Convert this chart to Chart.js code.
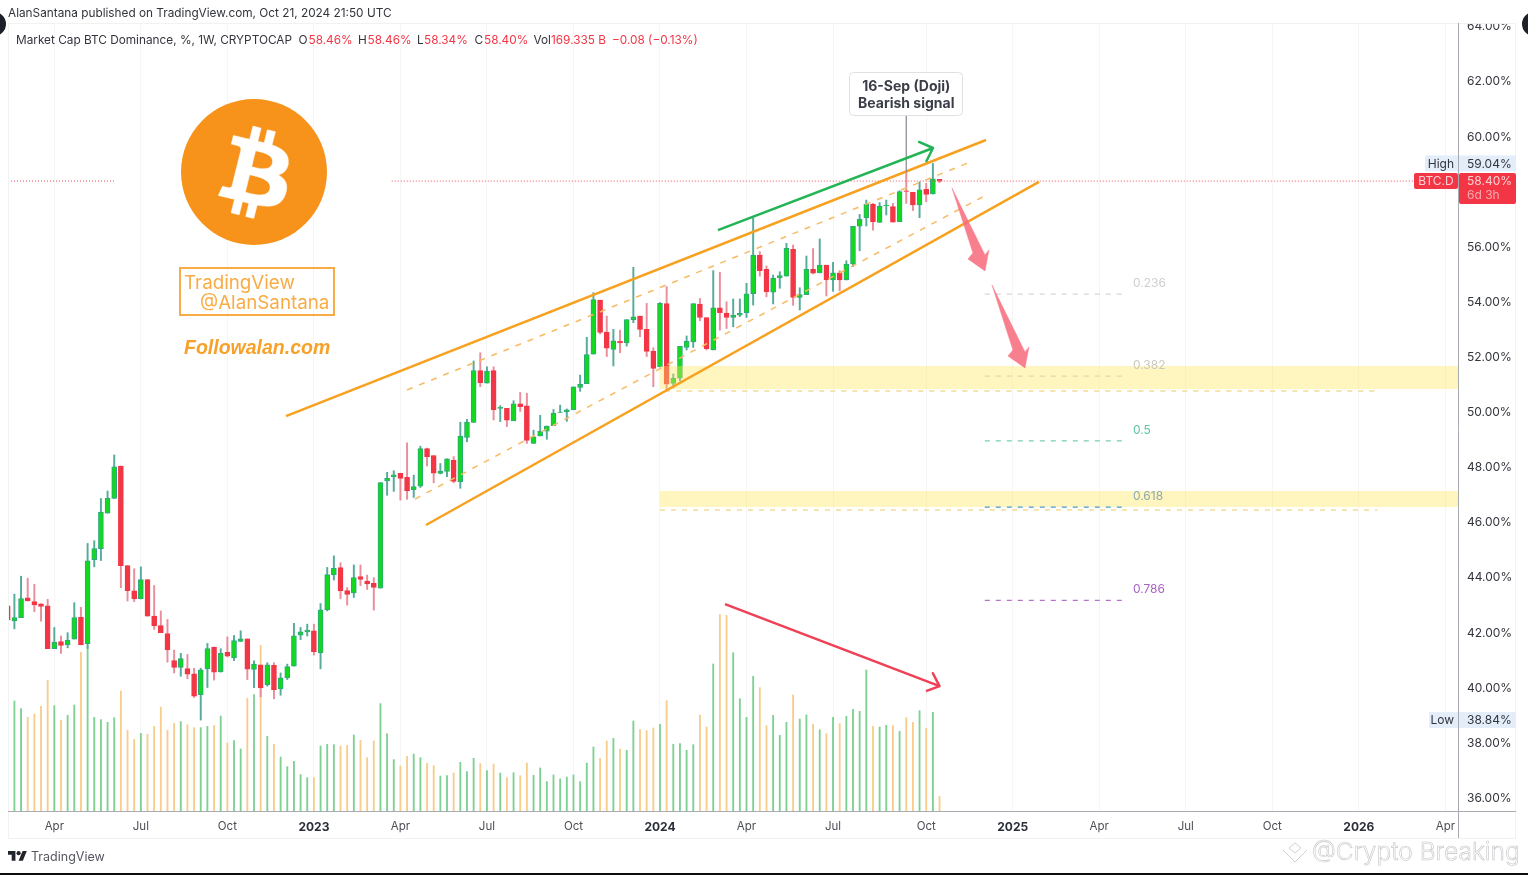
<!DOCTYPE html>
<html lang="en">

<head>
    <meta charset="UTF-8">
    <title>Market Cap BTC Dominance</title>
    <script src="https://cdn.jsdelivr.net/npm/chart.js"></script>
    <style>
        html, body { margin: 0; padding: 0; background: #fff; overflow: hidden; }
        #wrap { position: absolute; left: 0; top: 0; width: 1528px; height: 875px; }
        canvas { display: block; }
    </style>
</head>

<body>
    <div id="wrap"><canvas id="chart" width="1528" height="875"></canvas></div>
    <script>
        // weekly candles, first one is 2022-02-14ish, last one 2024-10-21
        const opens = [
            42.99,42.44,42.56,43.28,43.14,43.06,42.99,41.43,41.69,41.58,
            41.78,42.57,41.61,44.66,45.06,46.35,46.88,48.06,44.45,43.53,
            43.24,43.94,42.61,42.27,41.98,41.00,40.75,40.71,40.52,39.76,
            40.70,41.49,40.59,41.30,41.10,41.69,41.79,40.68,40.84,40.12,
            40.83,39.97,40.37,40.80,41.92,42.04,42.08,41.28,42.84,44.11,
            44.37,43.54,43.45,44.05,43.88,43.80,43.63,47.52,47.66,47.79,
            47.65,47.20,47.33,48.69,48.44,47.79,47.86,48.27,47.49,49.10,
            49.64,51.52,51.07,51.52,50.15,50.15,49.70,50.32,50.24,48.88,
            49.15,49.32,49.52,50.00,50.02,50.10,50.91,51.05,52.12,54.08,
            52.92,52.29,52.58,52.53,53.37,53.50,53.02,52.23,51.66,53.95,
            51.06,51.25,52.36,52.56,53.94,53.45,52.27,53.80,53.61,53.45,
            53.53,53.62,54.31,55.71,55.20,54.37,54.89,54.95,55.92,54.18,
            54.28,55.20,55.07,55.35,54.81,55.07,54.81,55.39,56.76,57.07,
            57.56,56.90,57.51,57.47,56.93,58.05,57.99,57.53,58.10,57.93,
            58.46
        ];
        const highs = [
            43.19,43.41,44.06,43.99,43.77,43.06,43.22,42.20,41.89,42.01,
            43.10,42.93,45.25,45.35,46.88,47.15,48.46,48.06,44.45,44.33,
            44.40,43.94,43.72,42.80,42.49,41.38,41.26,41.22,40.72,40.72,
            41.62,41.49,41.43,41.86,41.91,42.08,41.79,40.99,40.84,40.92,
            40.92,40.55,40.87,42.35,42.20,42.32,42.32,43.07,44.38,44.80,
            44.55,43.65,44.47,44.47,44.10,44.01,47.46,47.83,47.89,47.80,
            48.90,47.73,48.78,48.71,48.44,48.15,48.32,48.40,49.65,49.75,
            51.87,52.17,51.66,51.66,50.25,50.15,50.43,50.73,50.70,49.36,
            49.90,49.51,50.11,50.27,50.13,50.93,51.36,52.73,54.35,54.08,
            53.50,53.02,52.99,53.37,55.27,53.50,53.96,52.35,53.99,54.57,
            51.40,52.40,52.78,53.95,54.14,53.45,55.15,55.09,54.02,54.12,
            54.12,54.69,57.07,55.84,55.32,54.99,55.11,56.14,56.08,54.53,
            55.68,55.95,56.30,55.35,55.45,55.15,55.51,56.76,57.19,57.71,
            57.59,57.62,57.71,57.59,58.05,58.73,57.99,58.37,58.32,59.04,
            58.46
        ];
        const lows = [
            41.89,42.15,42.56,43.16,42.77,42.43,41.43,41.43,41.26,41.46,
            41.78,41.57,41.44,44.40,44.63,46.35,46.88,43.64,43.16,43.14,
            43.24,42.61,42.13,42.01,40.94,40.55,40.43,40.34,39.66,38.84,
            40.02,40.29,40.58,41.13,41.00,41.69,40.31,40.02,39.68,40.07,
            39.61,39.74,40.31,40.80,41.76,41.89,41.20,40.70,42.80,43.92,
            43.24,43.01,43.29,43.72,43.58,42.83,43.63,47.00,47.14,46.82,
            46.85,46.92,47.28,48.06,47.45,47.77,47.67,47.45,47.25,48.94,
            49.64,50.94,51.07,49.73,49.67,49.49,49.70,50.04,48.88,48.88,
            49.15,49.03,49.52,50.00,49.68,50.10,50.77,51.05,52.12,52.85,
            52.03,51.69,52.17,52.41,53.26,52.75,52.03,50.94,51.66,50.84,
            50.89,51.15,52.27,52.36,53.33,52.27,52.27,52.99,53.05,53.11,
            53.48,53.45,53.90,54.95,54.20,53.94,54.51,54.95,53.89,53.72,
            54.28,55.03,55.07,54.23,54.40,54.42,54.81,55.29,55.87,56.77,
            56.62,56.90,57.17,56.91,56.93,57.59,57.33,57.07,57.65,57.93,
            58.34
        ];
        const closes = [
            42.47,42.56,43.25,43.16,43.02,42.96,41.43,41.66,41.55,41.73,
            42.56,41.57,44.62,45.06,46.39,46.89,48.03,44.44,43.54,43.24,
            43.94,42.61,42.27,42.01,41.39,40.75,41.07,40.51,39.71,40.66,
            41.43,40.58,41.26,41.16,41.72,41.79,40.69,40.87,40.01,40.84,
            39.94,40.37,40.78,41.90,42.04,42.11,41.32,42.84,44.12,44.35,
            43.53,43.40,44.01,43.94,43.78,43.65,47.46,47.61,47.74,47.61,
            47.16,47.31,48.69,48.40,47.80,47.88,48.32,47.50,49.15,49.65,
            51.52,51.08,51.50,50.10,50.19,49.72,50.32,50.21,48.99,49.12,
            49.32,49.51,49.97,50.02,50.10,50.93,51.02,52.10,54.10,52.91,
            52.34,52.60,52.53,53.37,53.47,53.02,52.22,51.60,53.96,51.03,
            51.24,52.40,52.58,53.95,53.45,52.32,53.80,53.62,53.45,53.53,
            53.60,54.31,55.71,55.15,54.39,54.88,54.97,55.96,54.18,54.28,
            55.20,55.06,55.35,54.81,55.07,54.81,55.39,56.76,57.01,57.56,
            56.93,57.48,57.53,56.91,58.02,58.02,57.53,58.08,57.92,58.48,
            58.40
        ];
        // volume in billions
        const volumes = [
            951,1271,1182,1082,1120,1209,1509,1217,1047,1105,
            1224,1833,1894,1082,1055,1024,1078,1386,932,828,
            897,886,978,1201,932,1013,1032,997,963,963,
            978,986,1097,785,812,716,1301,1344,1913,862,
            770,624,512,574,420,385,385,751,770,766,
            751,758,878,816,616,809,1240,893,593,520,
            631,658,616,551,524,404,408,439,562,454,
            608,547,466,543,439,385,443,408,554,412,
            497,339,416,370,393,416,339,554,739,608,
            809,839,716,701,1040,939,928,959,1001,1274,
            770,778,701,766,1109,970,1698,2268,2260,1829,
            1297,1082,1555,1425,986,1105,874,1024,1340,1063,
            1109,1001,939,893,1082,1009,1093,1174,1151,1629,
            978,970,989,986,920,1078,1024,1159,955,1140,
            169
        ];

        const xTickWeeks = [7, 20, 33, 46, 59, 72, 85, 98, 111, 124, 138, 151, 164, 177, 190, 203, 216];
        const xTickLabels = ['Apr', 'Jul', 'Oct', '2023', 'Apr', 'Jul', 'Oct', '2024', 'Apr', 'Jul', 'Oct', '2025', 'Apr', 'Jul', 'Oct', '2026', 'Apr'];
        const yTickValues = [36, 38, 40, 42, 44, 46, 48, 50, 52, 54, 56, 58, 60, 62, 64];

        // drawings, [week, percent]
        const channelUpper = [[41.81, 49.87], [146.98, 59.89]];
        const channelLower = [[62.84, 45.92], [154.94, 58.37]];
        const channelMidUpper = [[59.99, 50.82], [145.03, 59.13]];
        const channelMidLower = [[61.19, 46.86], [146.98, 57.89]];
        const greenArrow = [[106.71, 56.62], [139.02, 59.60], [136.92, 59.82], [139.02, 59.60], [137.97, 59.09]];
        const redArrow = [[107.77, 43.05], [140.00, 40.07], [139.00, 40.54], [140.00, 40.07], [137.97, 39.89]];
        const pinkArrowOne = [[141.87, 58.15], [146.83, 55.72], [147.43, 55.90], [146.83, 55.14], [144.27, 55.57], [145.02, 55.79], [141.87, 58.15]];
        const pinkArrowTwo = [[147.88, 54.63], [152.84, 52.20], [153.44, 52.38], [152.84, 51.62], [150.28, 52.05], [151.03, 52.27], [147.88, 54.63]];
        const fibNames = ['0.236', '0.382', '0.5', '0.618', '0.786'];
        const fibValues = [54.30, 51.32, 48.97, 46.57, 43.18];
        const fibLineColors = ['#d6d6d6', '#dcd9b0', '#79cdb0', '#4f9cc4', '#b673cb'];
        const fibTextColors = ['#cfcfcf', '#c9c9c0', '#5fc4a0', '#8fa9ae', '#a963c2'];
        const zoneOne = [50.85, 51.69];
        const zoneTwo = [46.57, 47.15];

        const xMin = 0.04;
        const xMax = 217.9;
        const GREEN = '#12d81f';
        const RED = '#f23645';

        const weeks = closes.map((c, i) => i);
        const isUp = i => closes[i] >= opens[i];
        const pts = arr => arr.map(p => ({ x: p[0], y: p[1] }));

        function lineSet(arr, color, width, dash, order) {
            return {
                type: 'line', data: pts(arr), borderColor: color, borderWidth: width, borderDash: dash || [],
                pointRadius: 0, tension: 0, fill: false, order: order, yAxisID: 'y',
                borderCapStyle: 'butt', borderJoinStyle: 'round'
            };
        }
        function zoneSet(zone) {
            return {
                type: 'line', data: pts([[98, zone[1]], [xMax, zone[1]]]), borderWidth: 0, pointRadius: 0,
                fill: { value: zone[0] }, backgroundColor: 'rgba(252,231,95,0.4)', order: 4, yAxisID: 'y'
            };
        }
        function arrowSet(arr) {
            return {
                type: 'line', data: pts(arr), borderWidth: 0.5, borderColor: '#f8808e', pointRadius: 0, tension: 0,
                fill: 'shape', backgroundColor: 'rgba(247,105,122,0.85)', order: 1, yAxisID: 'y'
            };
        }

        const datasets = [
            {
                type: 'bar', data: weeks.map(i => ({ x: i, y: volumes[i] })), yAxisID: 'yVol', grouped: false,
                barThickness: 1.2, order: 10,
                backgroundColor: weeks.map(i => isUp(i) ? '#7fd093' : '#f8cd8c')
            },
            {
                type: 'bar', data: weeks.map(i => ({ x: i, y: [lows[i], highs[i]] })), yAxisID: 'y', grouped: false,
                barThickness: 1.3, order: 9,
                backgroundColor: weeks.map(i => isUp(i) ? '#56ab9a' : '#e98e9b')
            },
            {
                type: 'bar', data: weeks.map(i => ({ x: i, y: [opens[i], closes[i]] })), yAxisID: 'y', grouped: false,
                barThickness: 5, order: 8, borderWidth: 1, borderSkipped: false,
                backgroundColor: weeks.map(i => isUp(i) ? GREEN : RED),
                borderColor: weeks.map(i => isUp(i) ? '#2fa77e' : RED)
            },
            zoneSet(zoneOne),
            zoneSet(zoneTwo),
            lineSet([[98.8, 50.78], [205.8, 50.78]], '#f2dc96', 1.5, [5, 6], 3),
            lineSet([[98, 46.46], [205.8, 46.46]], '#f2dc96', 1.5, [5, 6], 3),
            lineSet([[xMin, closes[140]], [16.12, closes[140]]], '#ee4a5a', 1, [1, 2], 7),
            lineSet([[57.7, closes[140]], [xMax, closes[140]]], '#ee4a5a', 1, [1, 2], 7),
            lineSet(channelUpper, '#f7a11f', 2.5, [], 2),
            lineSet(channelLower, '#f7a11f', 2.5, [], 2),
            lineSet(channelMidUpper, '#f8ba63', 1.5, [6, 7], 2),
            lineSet(channelMidLower, '#f8ba63', 1.5, [6, 7], 2),
            lineSet(greenArrow, '#23b456', 2.5, [], 1),
            lineSet(redArrow, '#ef4056', 2.5, [], 1),
            lineSet([[135, 60.76], [135, 58.73]], '#85878f', 1.2, [], 1),
            arrowSet(pinkArrowOne),
            arrowSet(pinkArrowTwo)
        ];
        fibValues.forEach((v, i) => {
            datasets.push(lineSet([[146.8, v], [167.4, v]], fibLineColors[i], 1.3, [5, 6], 3));
        });

        const BITCOIN_B = 'M46.1 27.4c.6-4.3-2.6-6.6-7.1-8.1l1.5-5.8-3.5-.9-1.4 5.7c-.9-.2-1.9-.4-2.8-.7l1.4-5.7-3.5-.9-1.5 5.8c-.8-.2-1.5-.3-2.2-.5l-4.9-1.2-.9 3.8s2.6.6 2.6.6c1.4.4 1.7 1.3 1.6 2l-3.9 15.7c-.2.4-.6 1.1-1.6.8 0 0-2.6-.6-2.6-.6l-1.8 4 4.6 1.1c.9.2 1.7.4 2.5.6l-1.5 5.9 3.5.9 1.5-5.8c1 .3 1.9.5 2.8.7l-1.4 5.8 3.5.9 1.5-5.9c6 1.1 10.5.7 12.4-4.7 1.5-4.4-.1-6.9-3.2-8.5 2.3-.5 4-2 4.5-5.1zm-8 11.2c-1.1 4.4-8.4 2-10.8 1.4l1.9-7.7c2.4.6 10 1.8 8.9 6.3zm1.1-11.3c-1 4-7.1 2-9.1 1.5l1.7-7c2 .5 8.4 1.4 7.4 5.5z';

        const overlay = {
            id: 'overlay',
            afterDraw(chart) {
                const ctx = chart.ctx;
                const sy = chart.scales.y;
                const sx = chart.scales.x;
                const txt = (s, x, y, font, color, align) => {
                    ctx.font = font;
                    ctx.fillStyle = color;
                    ctx.textAlign = align || 'left';
                    ctx.textBaseline = 'middle';
                    ctx.fillText(s, x, y + 0.8);
                };
                ctx.save();

                // top part of the frame cuts the 64% label
                ctx.fillStyle = '#fff';
                ctx.fillRect(0, 0, 1528, 23);

                // frame
                ctx.strokeStyle = '#f2f2f3';
                ctx.lineWidth = 1;
                ctx.strokeRect(8.5, 23.5, 1507, 815);
                ctx.strokeStyle = '#a9abb2';
                ctx.beginPath();
                ctx.moveTo(1458.5, 23);
                ctx.lineTo(1458.5, 838);
                ctx.moveTo(8, 811.5);
                ctx.lineTo(1516, 811.5);
                ctx.stroke();

                // window corners and bottom edge
                ctx.fillStyle = '#1d2026';
                ctx.beginPath();
                ctx.arc(-6, 24, 12, 0, Math.PI * 2);
                ctx.arc(1534, 24, 12, 0, Math.PI * 2);
                ctx.fill();
                ctx.fillStyle = '#0c0c0e';
                ctx.fillRect(0, 873, 1528, 2);

                // header
                txt('AlanSantana published on TradingView.com, Oct 21, 2024 21:50 UTC', 8, 13, '11.8px Inter', '#33353d');
                txt('Market Cap BTC Dominance, %, 1W, CRYPTOCAP', 16, 39.5, '11.8px Inter', '#33353d');
                const legend = [['O', 298.5, '#33353d'], ['58.46%', 308.5, RED], ['H', 358, '#33353d'], ['58.46%', 367.5, RED],
                    ['L', 417, '#33353d'], ['58.34%', 424, RED], ['C', 474.5, '#33353d'], ['58.40%', 484, RED],
                    ['Vol', 533.5, '#33353d'], ['169.335 B', 551, RED], ['−0.08 (−0.13%)', 612, RED]];
                legend.forEach(l => txt(l[0], l[1], 39.5, '11.8px Inter', l[2]));

                // logo
                ctx.fillStyle = '#f7931a';
                ctx.beginPath();
                ctx.arc(254, 172, 73, 0, Math.PI * 2);
                ctx.fill();
                ctx.save();
                ctx.translate(183, 101);
                ctx.scale(146 / 64, 146 / 64);
                ctx.fillStyle = '#fff';
                ctx.strokeStyle = '#fff';
                ctx.lineWidth = 0.25;
                const bPath = new Path2D(BITCOIN_B);
                ctx.fill(bPath, 'evenodd');
                ctx.stroke(bPath);
                ctx.restore();

                ctx.strokeStyle = '#f8ac45';
                ctx.lineWidth = 2;
                ctx.strokeRect(180, 268, 154, 47);
                txt('TradingView', 184, 283, '18.8px Inter', '#f8ac45');
                txt('@AlanSantana', 200, 303, '18.8px Inter', '#f8ac45');
                txt('Followalan.com', 184, 348, 'italic bold 19.5px "Liberation Sans"', '#f7a12a');

                // doji note
                ctx.fillStyle = '#fff';
                ctx.strokeStyle = '#dfe0e3';
                ctx.lineWidth = 1;
                ctx.beginPath();
                ctx.roundRect(849.5, 72.5, 113, 43, 4);
                ctx.fill();
                ctx.stroke();
                txt('16-Sep (Doji)', sx.getPixelForValue(135), 85.5, 'bold 14px Inter', '#3b3e48', 'center');
                txt('Bearish signal', sx.getPixelForValue(135), 102.5, 'bold 14px Inter', '#3b3e48', 'center');

                // fib labels
                fibNames.forEach((n, i) => {
                    txt(n, sx.getPixelForValue(169.06), sy.getPixelForValue(fibValues[i]) - 11.5, '12px Inter', fibTextColors[i]);
                });

                // price scale labels
                const yHigh = sy.getPixelForValue(Math.max(...highs));
                const yLow = sy.getPixelForValue(Math.min(...lows));
                const yLast = sy.getPixelForValue(closes[closes.length - 1]);
                ctx.fillStyle = '#e3eefa';
                ctx.fillRect(1425, yHigh - 8, 33, 16);
                ctx.fillRect(1459, yHigh - 8, 57, 16);
                ctx.fillRect(1429, yLow - 8, 29, 16);
                ctx.fillRect(1459, yLow - 8, 57, 16);
                txt('High', 1454, yHigh, '12px Inter', '#33353d', 'right');
                txt(Math.max(...highs).toFixed(2) + '%', 1467, yHigh, '12px Inter', '#33353d');
                txt('Low', 1454, yLow, '12px Inter', '#33353d', 'right');
                txt(Math.min(...lows).toFixed(2) + '%', 1467, yLow, '12px Inter', '#33353d');
                ctx.fillStyle = RED;
                ctx.beginPath();
                ctx.roundRect(1414, yLast - 8, 44, 16, 2);
                ctx.fill();
                ctx.beginPath();
                ctx.roundRect(1459, yLast - 8, 57, 31, 2);
                ctx.fill();
                txt('BTC.D', 1436, yLast, '12px Inter', '#fbd0d4', 'center');
                txt(closes[closes.length - 1].toFixed(2) + '%', 1467, yLast, '12px Inter', '#fbd0d4');
                txt('6d 3h', 1467, yLast + 14, '12px Inter', '#f9a9b1');

                // footer mark
                ctx.save();
                ctx.translate(8, 849);
                ctx.scale(0.53, 0.53);
                ctx.fillStyle = '#22242b';
                ctx.fill(new Path2D('M14 22H7V11H0V4h14v18zM28 22h-8l7.5-18h8L28 22z'));
                ctx.beginPath();
                ctx.arc(20, 8, 4, 0, Math.PI * 2);
                ctx.fill();
                ctx.restore();
                txt('TradingView', 31, 856, '12.5px Inter', '#54565e');

                // watermark
                ctx.strokeStyle = '#c4c5c8';
                ctx.lineWidth = 0.8;
                ctx.beginPath();
                [[1295, 843, 1301, 848, 1295, 853, 1289, 848, 1295, 843], [1283, 850, 1288, 855, 1295, 862, 1302, 855, 1307, 850]].forEach(p => {
                    ctx.moveTo(p[0], p[1]);
                    for (let k = 2; k < p.length; k += 2) ctx.lineTo(p[k], p[k + 1]);
                });
                ctx.stroke();
                ctx.lineWidth = 0.6;
                ctx.font = '300 24.5px Inter';
                ctx.textAlign = 'left';
                ctx.textBaseline = 'middle';
                ctx.fillStyle = '#fff';
                ctx.fillText('@Crypto Breaking', 1312, 853);
                ctx.strokeText('@Crypto Breaking', 1312, 853);
                ctx.restore();
            }
        };

        new Chart(document.getElementById('chart'), {
            type: 'bar',
            data: { datasets: datasets },
            plugins: [overlay],
            options: {
                responsive: false,
                animation: false,
                maintainAspectRatio: false,
                layout: { padding: { left: 8, top: 24, right: 0, bottom: 0 } },
                plugins: { legend: { display: false }, tooltip: { enabled: false }, title: { display: false } },
                scales: {
                    x: {
                        type: 'linear', min: xMin, max: xMax, offset: false,
                        afterBuildTicks: s => { s.ticks = xTickWeeks.map(v => ({ value: v })); },
                        afterFit: s => { s.height = 64; },
                        grid: { color: '#f5f5f6', drawTicks: false, offset: false, lineWidth: 1 },
                        border: { display: false },
                        ticks: {
                            autoSkip: false, maxRotation: 0, padding: 9, color: ctx => /^\d/.test(xTickLabels[ctx.index] || '') ? '#2a2e39' : '#4d4f57',
                            font: ctx => /^\d/.test(xTickLabels[ctx.index] || '') ? { family: 'Inter', size: 12, weight: 'bold' } : { family: 'Inter', size: 11.5 },
                            callback: v => xTickLabels[xTickWeeks.indexOf(v)]
                        }
                    },
                    y: {
                        type: 'linear', position: 'right', min: 35.54, max: 64.1,
                        afterBuildTicks: s => { s.ticks = yTickValues.map(v => ({ value: v })); },
                        afterFit: s => { s.width = 70; },
                        grid: { display: false, drawTicks: false },
                        border: { display: false },
                        ticks: { padding: 9, color: '#33353d', font: { family: 'Inter', size: 12 }, callback: v => v.toFixed(2) + '%' }
                    },
                    yVol: { type: 'linear', display: false, min: 0, max: 9090, position: 'left' }
                }
            }
        });
    </script>
</body>

</html>
